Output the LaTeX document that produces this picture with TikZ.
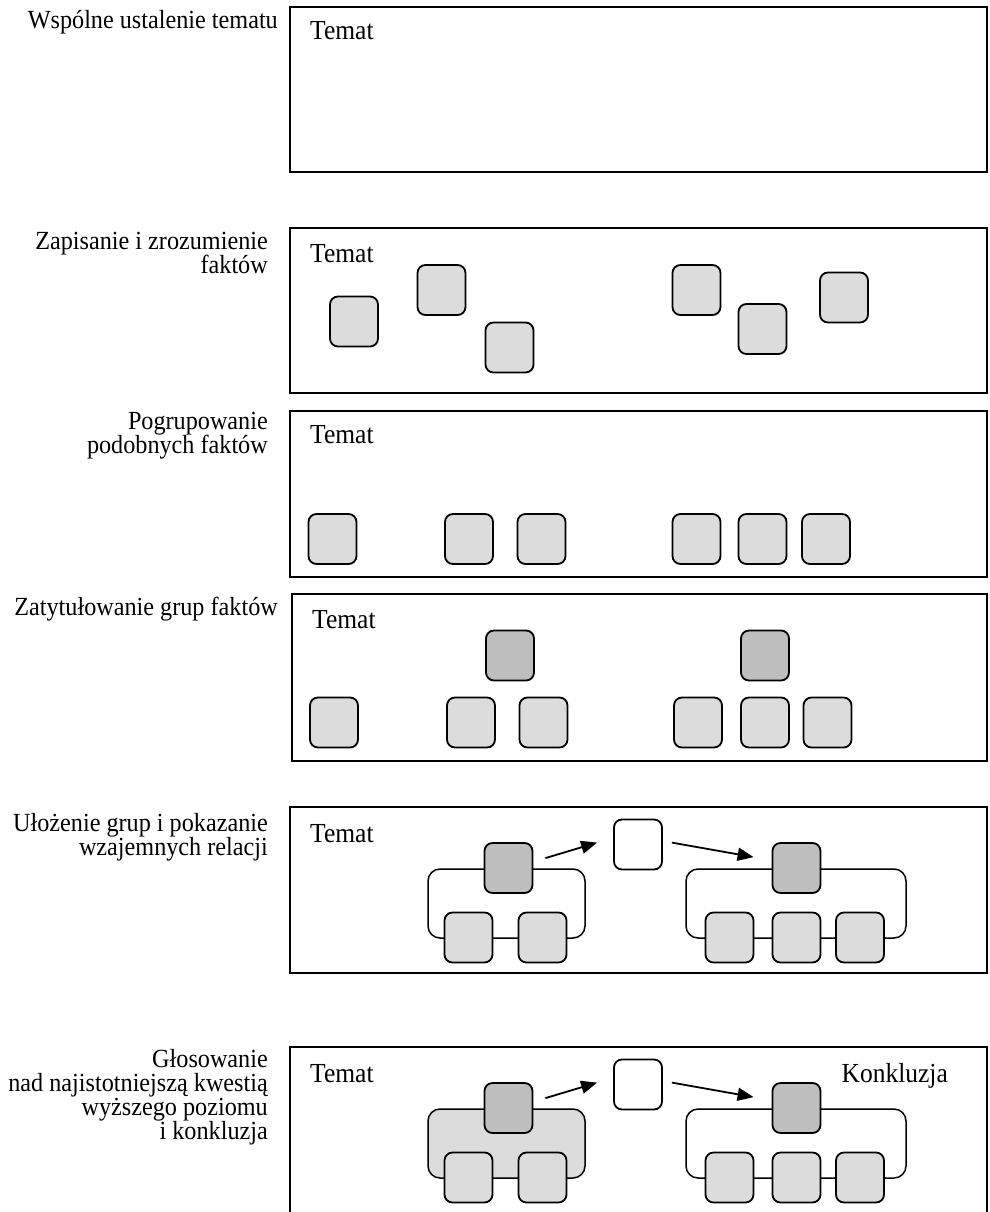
\documentclass[tikz,border=0pt]{standalone}
\usepackage{fontspec}
\usepackage{graphicx}
\setmainfont{Liberation Serif}
\usetikzlibrary{arrows.meta}
\definecolor{lightf}{HTML}{DCDCDC}
\definecolor{darkf}{HTML}{BEBEBE}
\newcommand{\tallt}[1]{\scalebox{1}[1.08]{#1}}
\begin{document}
\begin{tikzpicture}[x=1pt,y=-1pt,
 panel/.style={draw=black,line width=2pt},
 fact/.style={draw=black,line width=1.8pt,rounded corners=8pt,fill=lightf,minimum width=48pt,minimum height=50pt,inner sep=0pt},
 titlebox/.style={fact,fill=darkf},
 blank/.style={fact,fill=white},
 frame/.style={draw=black,line width=1.5pt,rounded corners=12pt},
 lab/.style={font=\fontsize{24.2}{24}\selectfont,inner sep=0pt,anchor=base east},
 tem/.style={font=\fontsize{25.5}{26}\selectfont,inner sep=0pt,anchor=base west},
 konk/.style={font=\fontsize{25.5}{26}\selectfont,inner sep=0pt,anchor=base east},
 arr/.style={line width=1.8pt,-{Triangle[length=16pt,width=13pt]}}]
\useasboundingbox (0,0) rectangle (989,1212);

% ---------- labels ----------
\node[lab] (l1) at (278,29) {\tallt{Wspólne ustalenie tematu}};
\node[lab] (l2a) at (268,249) {\tallt{Zapisanie i zrozumienie}};
\node[lab] (l2b) at (268,273) {\tallt{faktów}};
\node[lab] (l3a) at (268,429) {\tallt{Pogrupowanie}};
\node[lab] (l3b) at (268,453) {\tallt{podobnych faktów}};
\node[lab] (l4) at (278,615) {\tallt{Zatytułowanie grup faktów}};
\node[lab] (l5a) at (268,831) {\tallt{Ułożenie grup i pokazanie}};
\node[lab] (l5b) at (268,855) {\tallt{wzajemnych relacji}};
\node[lab] (l6a) at (268,1067) {\tallt{Głosowanie}};
\node[lab] (l6b) at (268,1091) {\tallt{nad najistotniejszą kwestią}};
\node[lab] (l6c) at (268,1115) {\tallt{wyższego poziomu}};
\node[lab] (l6d) at (268,1139) {\tallt{i konkluzja}};

% ---------- panels ----------
\draw[panel] (290,7) rectangle (987,172);
\draw[panel] (290,228) rectangle (987,393);
\draw[panel] (290,411) rectangle (987,577);
\draw[panel] (292,594) rectangle (987,761);
\draw[panel] (290,807) rectangle (987,973);
\draw[panel] (290,1213) -- (290,1047) -- (987,1047) -- (987,1213);

\node[tem] (t1) at (310,40) {\tallt{Temat}};
\node[tem] (t2) at (310,262) {\tallt{Temat}};
\node[tem] (t3) at (310,443) {\tallt{Temat}};
\node[tem] (t4) at (312,628) {\tallt{Temat}};
\node[tem] (t5) at (310,842) {\tallt{Temat}};
\node[tem] (t6) at (310,1082) {\tallt{Temat}};
\node[konk] (k6) at (948,1082) {\tallt{Konkluzja}};

% ---------- row 2 ----------
\node[fact] (r2a) at (354,321.5) {};
\node[fact] (r2b) at (441.5,290) {};
\node[fact] (r2c) at (509.5,347.5) {};
\node[fact] (r2d) at (696.5,290) {};
\node[fact] (r2e) at (762.5,329) {};
\node[fact] (r2f) at (844,297.5) {};

% ---------- row 3 ----------
\foreach \x [count=\i] in {332.5,469,541.5,696.5,762.5,826}
  \node[fact] (r3\i) at (\x,539) {};

% ---------- row 4 ----------
\node[titlebox] (r4t1) at (510,655.5) {};
\node[titlebox] (r4t2) at (765,655.5) {};
\foreach \x [count=\i] in {334,471,543.5,698,765,827.5}
  \node[fact] (r4\i) at (\x,722.5) {};

% ---------- row 5 ----------
\draw[frame] (428,869) rectangle (585,938);
\draw[frame] (686,869) rectangle (906,938);
\node[titlebox] (r5A) at (508.5,868) {};
\node[blank] (r5W) at (638,844.5) {};
\node[titlebox] (r5B) at (796.5,868) {};
\foreach \x [count=\i] in {468.5,542.5,729.5,796.5,860}
  \node[fact] (r5\i) at (\x,937.5) {};
\draw[arr] ([shift={(12,16)}]r5A.north east) -- ([shift={(-16,24)}]r5W.north west);
\draw[arr] ([shift={(9,24)}]r5W.north east) -- ([shift={(-18,15)}]r5B.north west);

% ---------- row 6 ----------
\draw[frame,fill=lightf] (428,1109) rectangle (585,1178);
\draw[frame] (686,1109) rectangle (906,1178);
\node[titlebox] (r6A) at (508.5,1108) {};
\node[blank] (r6W) at (638,1084.5) {};
\node[titlebox] (r6B) at (796.5,1108) {};
\foreach \x [count=\i] in {468.5,542.5,729.5,796.5,860}
  \node[fact] (r6\i) at (\x,1177.5) {};
\draw[arr] ([shift={(12,16)}]r6A.north east) -- ([shift={(-16,24)}]r6W.north west);
\draw[arr] ([shift={(9,24)}]r6W.north east) -- ([shift={(-18,15)}]r6B.north west);
\end{tikzpicture}
\end{document}
